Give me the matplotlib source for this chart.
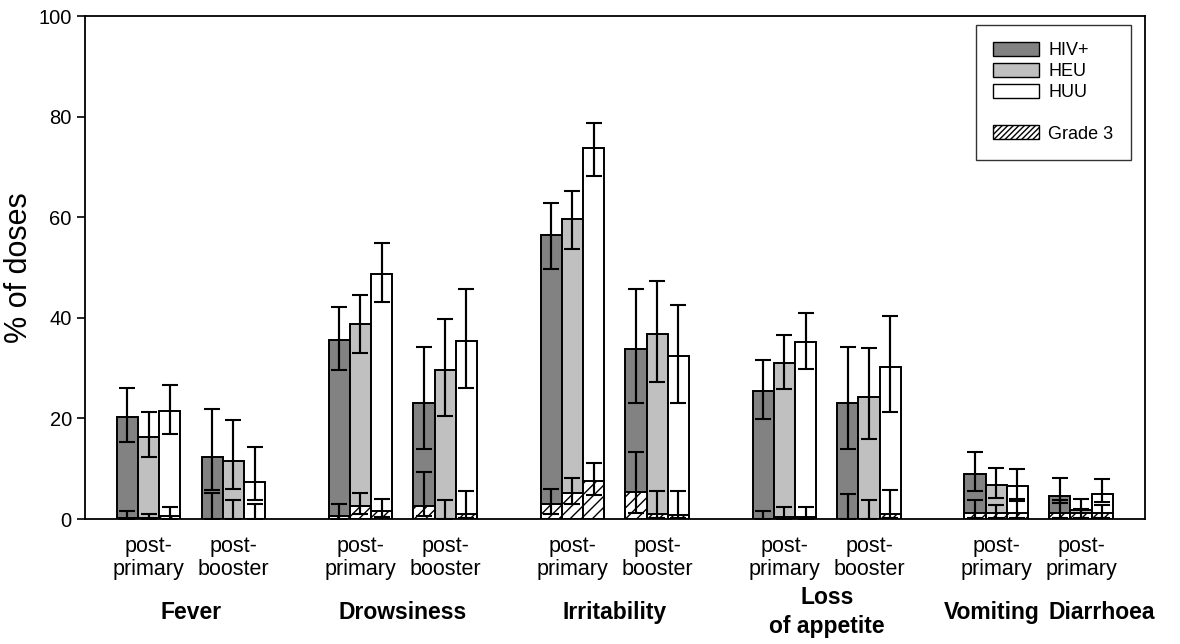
import numpy as np
import matplotlib
matplotlib.use("Agg")
import matplotlib.pyplot as plt
from matplotlib.patches import Patch

plt.rcParams["font.family"] = ["Liberation Sans", "DejaVu Sans"]
plt.rcParams["hatch.linewidth"] = 1.0

# grupos (síntoma / dosis)
sintomas = ["Fever", "Drowsiness", "Irritability", "Loss\nof appetite", "Vomiting", "Diarrhoea"]
dosis = ["post-\nprimary", "post-\nbooster", "post-\nprimary", "post-\nbooster",
         "post-\nprimary", "post-\nbooster", "post-\nprimary", "post-\nbooster",
         "post-\nprimary", "post-\nprimary"]

# todos los grados
hiv = [20.2, 12.3, 35.7, 23.0, 56.5, 33.8, 25.4, 23.0, 9.0, 4.6]
hiv_lo = [15.4, 5.8, 29.6, 13.9, 49.7, 23.1, 19.9, 13.9, 5.6, 3.1]
hiv_hi = [26.0, 21.8, 42.1, 34.3, 62.8, 45.7, 31.6, 34.3, 13.3, 8.2]
heu = [16.4, 11.6, 38.8, 29.6, 59.6, 36.8, 31.0, 24.3, 6.8, 1.8]
heu_lo = [12.4, 5.9, 33.1, 20.5, 53.7, 27.2, 25.8, 15.9, 4.2, 1.2]
heu_hi = [21.2, 19.7, 44.5, 39.7, 65.2, 47.4, 36.5, 34.1, 10.1, 3.9]
huu = [21.5, 7.3, 48.8, 35.4, 73.7, 32.4, 35.2, 30.3, 6.6, 4.9]
huu_lo = [17.0, 3.8, 43.1, 26.1, 68.3, 23.1, 29.8, 21.3, 4.0, 3.4]
huu_hi = [26.6, 14.4, 54.8, 45.7, 78.7, 42.6, 40.9, 40.4, 9.9, 7.9]

# grado 3
hiv_g3 = [0.3, 0.0, 0.7, 2.6, 2.9, 5.3, 0.0, 0.0, 1.3, 1.3]
hiv_g3_lo = [0.0, 0.0, 0.1, 0.7, 1.1, 1.3, 0.0, 0.0, 0.3, 0.3]
hiv_g3_hi = [1.6, 5.2, 2.9, 9.4, 6.0, 13.3, 1.7, 4.9, 3.8, 3.8]
heu_g3 = [0.2, 0.0, 2.6, 0.0, 5.1, 1.1, 0.5, 0.0, 1.3, 1.2]
heu_g3_lo = [0.0, 0.0, 1.0, 0.0, 2.9, 0.2, 0.1, 0.0, 0.3, 0.3]
heu_g3_hi = [1.1, 3.8, 5.1, 3.8, 8.2, 5.6, 2.3, 3.8, 2.8, 2.0]
huu_g3 = [0.6, 0.0, 1.7, 1.0, 7.6, 0.9, 0.5, 1.0, 1.3, 1.3]
huu_g3_lo = [0.1, 0.0, 0.4, 0.2, 4.8, 0.2, 0.1, 0.2, 0.3, 0.3]
huu_g3_hi = [2.3, 3.0, 4.0, 5.6, 11.1, 5.6, 2.3, 5.7, 3.6, 2.8]

# posiciones de los grupos
x = np.array([0, 4, 10, 14, 20, 24, 30, 34, 40, 44])
x_sintoma = [2, 12, 22, 32, 39.8, 45.0]

fig = plt.figure(figsize=(11.8, 6.44), dpi=100)
ax = fig.add_axes([0.072, 0.194, 0.898, 0.781])

series = [
    (hiv, hiv_lo, hiv_hi, hiv_g3, hiv_g3_lo, hiv_g3_hi, "#828282", -1),
    (heu, heu_lo, heu_hi, heu_g3, heu_g3_lo, heu_g3_hi, "#c0c0c0", 0),
    (huu, huu_lo, huu_hi, huu_g3, huu_g3_lo, huu_g3_hi, "white", 1),
]


def barras_error(pos, centro, lo, hi, z):
    # linea vertical + topes
    ax.vlines(pos, lo, hi, colors="black", linewidth=1.5, zorder=z)
    ax.errorbar(pos, centro, yerr=[centro - lo, hi - centro], fmt="none", ecolor="black",
                elinewidth=1.5, capsize=5.5, capthick=1.5, zorder=z)


for val, lo, hi, g3, g3lo, g3hi, color, off in series:
    ax.bar(x + off, val, width=1.0, color=color, edgecolor="black", linewidth=1.4, zorder=2)

for val, lo, hi, g3, g3lo, g3hi, color, off in series:
    barras_error(x + off, np.array(val), np.array(lo), np.array(hi), 6)

for val, lo, hi, g3, g3lo, g3hi, color, off in series:
    ax.bar(x + off, g3, width=1.0, color="white", edgecolor="black", hatch="///",
           linewidth=1.4, zorder=7)

for val, lo, hi, g3, g3lo, g3hi, color, off in series:
    barras_error(x + off, np.array(g3), np.array(g3lo), np.array(g3hi), 8)

ax.set_xlim(-3, 47)
ax.set_ylim(0, 100)
ax.set_yticks([0, 20, 40, 60, 80, 100])
ax.tick_params(axis="y", labelsize=14.5, direction="out", length=6, width=1.2)
ax.set_xticks(x)
ax.set_xticklabels(dosis, fontsize=15.5, linespacing=1.15)
ax.tick_params(axis="x", length=0, pad=12)
ax.set_ylabel("% of doses", fontsize=22, labelpad=3)
for s in ax.spines.values():
    s.set_linewidth(1.3)

for xs, nombre in zip(x_sintoma, sintomas):
    ax.text(xs, -0.185, nombre, transform=ax.get_xaxis_transform(), ha="center",
            va="center", fontsize=16.5, fontweight="bold", linespacing=1.3)

handles = [
    Patch(facecolor="#828282", edgecolor="black", label="HIV+"),
    Patch(facecolor="#c0c0c0", edgecolor="black", label="HEU"),
    Patch(facecolor="white", edgecolor="black", label="HUU"),
    Patch(facecolor="none", edgecolor="none", label=" "),
    Patch(facecolor="white", edgecolor="black", hatch="//////", label="Grade 3"),
]
leg = ax.legend(handles=handles, loc="upper right", bbox_to_anchor=(1 - 14 / 1060, 1 - 9 / 503),
                borderaxespad=0, fontsize=13, fancybox=False, frameon=True,
                handlelength=2.55, handleheight=0.8, labelspacing=0.2,
                borderpad=0.95, handletextpad=0.5)
leg.get_frame().set_edgecolor("black")
leg.get_frame().set_linewidth(1.0)
leg.set_zorder(10)

fig.savefig("out.png", dpi=100)
